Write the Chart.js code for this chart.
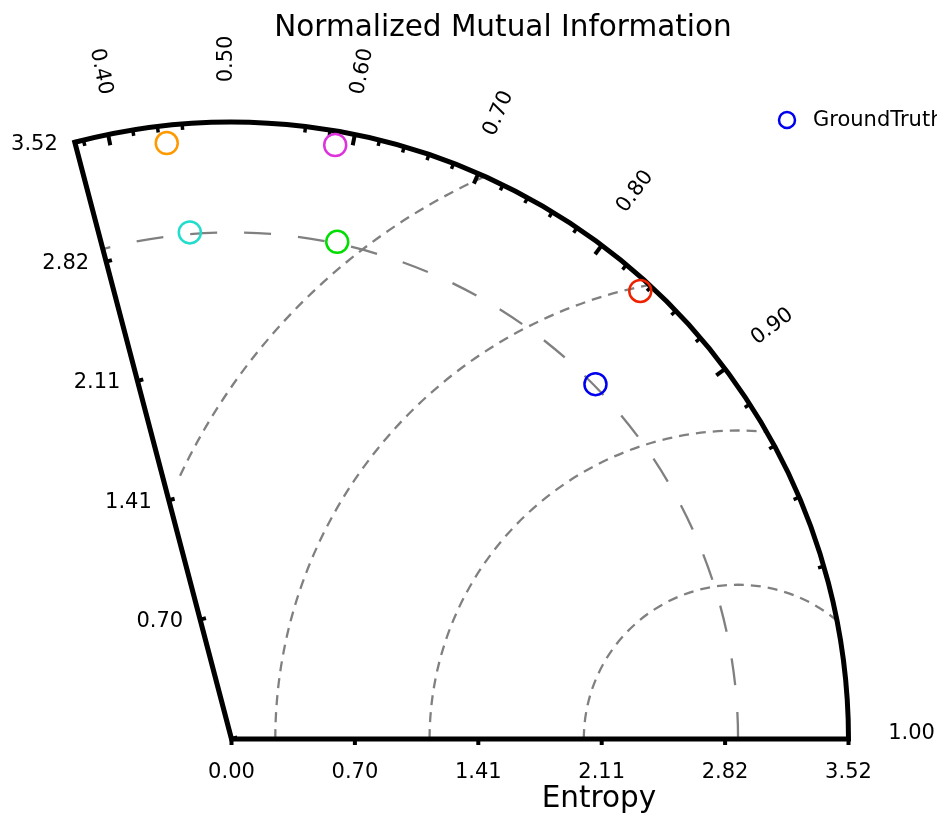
<!DOCTYPE html>
<html>
<head>
<meta charset="utf-8">
<script src="https://cdn.jsdelivr.net/npm/chart.js@4.4.0/dist/chart.umd.min.js"></script>
<style>
  html, body { margin: 0; padding: 0; background: #fff; }
</style>
</head>
<body>
<canvas id="miChart" width="937" height="815"></canvas>
<script>
// models and their values (entropy = radius, NMI = angle)
const models  = ['GroundTruth', 'Model 1', 'Model 2', 'Model 3', 'Model 4', 'Model 5'];
const entropy = [2.90, 3.42, 3.44, 2.90, 2.90, 3.46];
const nmi     = [0.858, 0.446, 0.586, 0.459, 0.604, 0.837];
const colors  = ['#0000ee', '#ff9900', '#dd33dd', '#22ddcc', '#00dd00', '#ee2200'];

// axis ticks
const entropyTicks = [0, 0.704, 1.408, 2.112, 2.816, 3.52];
const nmiLabels    = [0.40, 0.50, 0.60, 0.70, 0.80, 0.90, 1.00];
const nmiMajor     = [0.40, 0.60, 0.70, 0.80, 0.90, 1.00];
const nmiMinor     = [0.38, 0.42, 0.44, 0.46, 0.56, 0.58, 0.62, 0.64, 0.66, 0.68,
                      0.72, 0.74, 0.76, 0.78, 0.82, 0.84, 0.86, 0.88, 0.92, 0.94, 0.96, 0.98];

const rMax = 3.52;          // outer radius of the diagram
const nmiEdge = 0.373;      // NMI at the left edge of the sector
const refEntropy = 2.89;    // entropy of the reference (grey circles)
const circleStep = 0.88;    // spacing of the short dashed circles
const nmiClip = 0.40;

// pixel geometry of the page
const S = 617 / rMax;       // px per entropy unit
const originX = 231.5, originY = 739;

const ang = n => Math.acos(2 * n - 1);
const toXY = (r, n) => ({ x: r * Math.cos(ang(n)), y: r * Math.sin(ang(n)) });

const datasets = models.map((m, i) => ({
  label: m,
  data: [toXY(entropy[i], nmi[i])],
  pointStyle: 'circle',
  pointRadius: 11,
  pointHoverRadius: 11,
  pointBorderWidth: 2.5,
  borderColor: colors[i],
  backgroundColor: 'rgba(0,0,0,0)',
  showLine: false,
  clip: false
}));

const FONT = '"DejaVu Sans", sans-serif';

const miFrame = {
  id: 'miFrame',
  beforeDatasetsDraw(chart) {
    const { ctx, scales: { x: xs, y: ys } } = chart;
    const P = (r, a) => [xs.getPixelForValue(r * Math.cos(a)), ys.getPixelForValue(r * Math.sin(a))];
    const [ox, oy] = P(0, 0);
    const u = xs.getPixelForValue(1) - ox;
    const R = rMax * u;
    const aEdge = ang(nmiEdge);

    ctx.save();
    // short dashed circles around the reference entropy
    ctx.save();
    ctx.beginPath();
    ctx.moveTo(ox, oy);
    ctx.lineTo(...P(rMax, ang(nmiClip)));
    ctx.arc(ox, oy, R, -ang(nmiClip), 0, false);
    ctx.closePath();
    ctx.clip();
    ctx.strokeStyle = '#808080';
    ctx.lineWidth = 2.3;
    ctx.setLineDash([10, 7]);
    const [cx, cy] = P(refEntropy, 0);
    for (let k = 1; k <= 4; k++) {
      ctx.beginPath();
      ctx.arc(cx, cy, k * circleStep * u, Math.PI, 2 * Math.PI, false);
      ctx.stroke();
    }
    ctx.restore();

    // long dashed circle of the reference entropy
    ctx.strokeStyle = '#808080';
    ctx.lineWidth = 2.3;
    ctx.setLineDash([27, 27]);
    ctx.beginPath();
    ctx.arc(ox, oy, refEntropy * u, 0, -aEdge, true);
    ctx.stroke();
    ctx.setLineDash([]);

    // frame
    ctx.strokeStyle = '#000';
    ctx.lineWidth = 5;
    ctx.lineJoin = 'miter';
    ctx.beginPath();
    ctx.moveTo(ox, oy);
    ctx.lineTo(...P(rMax, aEdge));
    ctx.arc(ox, oy, R, -aEdge, 0, false);
    ctx.closePath();
    ctx.stroke();

    // angular ticks (pointing inward)
    const tick = (n, len, w) => {
      const a = ang(n);
      ctx.lineWidth = w;
      ctx.beginPath();
      ctx.moveTo(ox + R * Math.cos(a), oy - R * Math.sin(a));
      ctx.lineTo(ox + (R - len) * Math.cos(a), oy - (R - len) * Math.sin(a));
      ctx.stroke();
    };
    ctx.lineCap = 'butt';
    nmiMajor.forEach(n => tick(n, 11, 4));
    nmiMinor.forEach(n => tick(n, 6, 3.5));

    // radial ticks on the x axis and on the left edge
    ctx.lineWidth = 4;
    entropyTicks.forEach(r => {
      const [tx, ty] = P(r, 0);
      ctx.beginPath();
      ctx.moveTo(tx, ty);
      ctx.lineTo(tx, ty + 6);
      ctx.stroke();
      const [ex, ey] = P(r, aEdge);
      const nx = Math.sin(aEdge), ny = Math.cos(aEdge);
      ctx.beginPath();
      ctx.moveTo(ex, ey);
      ctx.lineTo(ex + 6 * nx, ey + 6 * ny);
      ctx.stroke();
    });

    // tick labels
    ctx.fillStyle = '#000';
    ctx.font = '21px ' + FONT;
    ctx.textAlign = 'center';
    ctx.textBaseline = 'middle';
    entropyTicks.forEach(r => {
      const [tx, ty] = P(r, 0);
      ctx.fillText(r.toFixed(2), tx, ty + 34);
    });
    ctx.textAlign = 'right';
    entropyTicks.slice(1).forEach(r => {
      const [ex, ey] = P(r, aEdge);
      ctx.fillText(r.toFixed(2), ex - 17, ey + 2);
    });
    ctx.textAlign = 'center';
    ctx.textBaseline = 'alphabetic';
    nmiLabels.forEach(n => {
      const a = ang(n);
      const [lx, ly] = P(3.88, a);
      ctx.save();
      ctx.translate(lx, ly);
      ctx.rotate(a > Math.PI / 2 + 1e-9 ? -(a - Math.PI) : -a);
      ctx.fillText(n.toFixed(2), 0, 0);
      ctx.restore();
    });

    // titles
    ctx.font = '29.5px ' + FONT;
    ctx.fillText('Normalized Mutual Information', 503, 36);
    ctx.fillText('Entropy', 599, 807);

    // legend (reference only)
    ctx.strokeStyle = colors[0];
    ctx.lineWidth = 2.5;
    ctx.beginPath();
    ctx.arc(787, 120, 8, 0, 2 * Math.PI);
    ctx.stroke();
    ctx.font = '21px ' + FONT;
    ctx.textAlign = 'left';
    ctx.textBaseline = 'middle';
    ctx.fillText(models[0], 813, 121);
    ctx.restore();
  }
};

new Chart(document.getElementById('miChart').getContext('2d'), {
  type: 'scatter',
  data: { datasets },
  options: {
    responsive: false,
    animation: false,
    layout: { padding: 0, autoPadding: false },
    scales: {
      x: { type: 'linear', display: false, min: -originX / S, max: (937 - originX) / S },
      y: { type: 'linear', display: false, min: -(815 - originY) / S, max: originY / S }
    },
    plugins: {
      legend: { display: false },
      tooltip: { enabled: false }
    }
  },
  plugins: [miFrame]
});
</script>
</body>
</html>
